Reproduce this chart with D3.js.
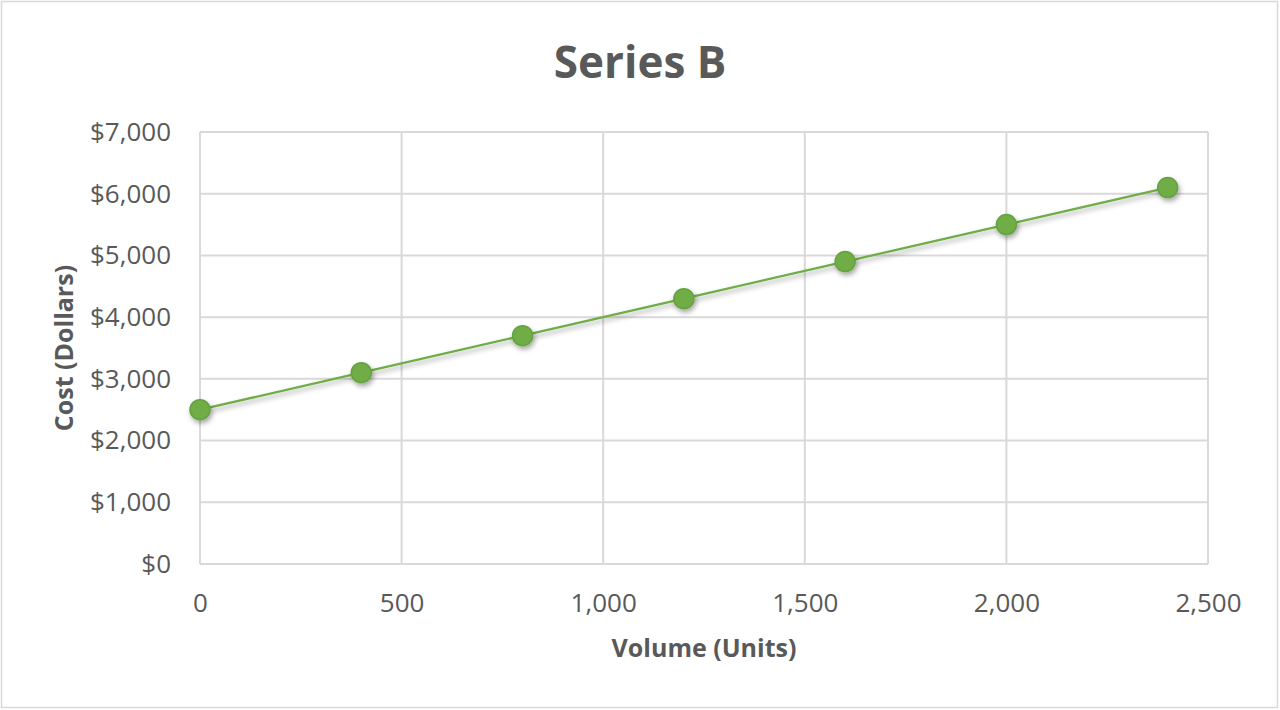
<!DOCTYPE html>
<html>
<head>
<meta charset="utf-8">
<script src="https://cdn.jsdelivr.net/npm/d3@7"></script>
<style>
  body { margin: 0; background: #fff; }
  svg { display: block; font-family: "Open Sans", sans-serif; }
</style>
</head>
<body>
<div id="chart"></div>
<script>
const volume = [0, 400, 800, 1200, 1600, 2000, 2400];
const cost = [2500, 3100, 3700, 4300, 4900, 5500, 6100];
const xTicks = [0, 500, 1000, 1500, 2000, 2500];
const yTicks = [0, 1000, 2000, 3000, 4000, 5000, 6000, 7000];

const width = 1280, height = 710;
const margin = { top: 132, right: 72, bottom: 146, left: 200 };
const textColor = "#595959";
const green = "#70ad47";

const svg = d3.select("#chart").append("svg")
  .attr("width", width)
  .attr("height", height);

// chart border
svg.append("rect")
  .attr("x", 1.5).attr("y", 1.5)
  .attr("width", width - 4).attr("height", height - 4)
  .attr("fill", "#fff")
  .attr("stroke", "#d9d9d9")
  .attr("stroke-width", 1.5);

const defs = svg.append("defs");
const shadow = defs.append("filter").attr("id", "shadow")
  .attr("x", "-50%").attr("y", "-50%").attr("width", "200%").attr("height", "200%");
shadow.append("feDropShadow")
  .attr("dx", 1.5).attr("dy", 3).attr("stdDeviation", 2.5)
  .attr("flood-color", "#000").attr("flood-opacity", 0.35);

const x = d3.scaleLinear()
  .domain([0, 2500])
  .range([margin.left, width - margin.right]);

const y = d3.scaleLinear()
  .domain([0, 7000])
  .range([height - margin.bottom, margin.top]);

// gridlines
svg.append("g")
  .selectAll("line")
  .data(yTicks)
  .join("line")
  .attr("x1", margin.left).attr("x2", width - margin.right)
  .attr("y1", (d) => y(d)).attr("y2", (d) => y(d))
  .attr("stroke", "#d9d9d9").attr("stroke-width", 2);

svg.append("g")
  .selectAll("line")
  .data(xTicks)
  .join("line")
  .attr("x1", (d) => x(d)).attr("x2", (d) => x(d))
  .attr("y1", margin.top).attr("y2", height - margin.bottom)
  .attr("stroke", "#d9d9d9").attr("stroke-width", 2);

// axes
const xAxis = (g) =>
  g.attr("transform", `translate(0,${ height - margin.bottom })`)
    .call(d3.axisBottom(x).tickValues(xTicks).tickSize(0).tickPadding(30)
      .tickFormat(d3.format(",")))
    .call((g) => g.select(".domain").remove());

const yAxis = (g) =>
  g.attr("transform", `translate(${ margin.left },0)`)
    .call(d3.axisLeft(y).tickValues(yTicks).tickSize(0).tickPadding(29)
      .tickFormat((d) => "$" + d3.format(",")(d)))
    .call((g) => g.select(".domain").remove());

svg.append("g").call(xAxis);
svg.append("g").call(yAxis);

svg.selectAll(".tick text")
  .attr("font-family", "\"Open Sans\", sans-serif")
  .attr("font-size", 26)
  .attr("fill", textColor);

// title and axis titles
svg.append("text")
  .attr("x", 640).attr("y", 78)
  .attr("text-anchor", "middle")
  .attr("font-size", 44).attr("font-weight", "bold")
  .attr("fill", textColor)
  .text("Series B");

svg.append("text")
  .attr("x", (margin.left + width - margin.right) / 2).attr("y", 657)
  .attr("text-anchor", "middle")
  .attr("font-size", 25).attr("font-weight", "bold")
  .attr("fill", textColor)
  .text("Volume (Units)");

svg.append("text")
  .attr("transform", `translate(73,${ (margin.top + height - margin.bottom) / 2 }) rotate(-90)`)
  .attr("text-anchor", "middle")
  .attr("font-size", 25).attr("font-weight", "bold")
  .attr("fill", textColor)
  .text("Cost (Dollars)");

// series
const data = volume.map((v, i) => ({ volume: v, cost: cost[i] }));

const line = d3.line()
  .x((d) => x(d.volume))
  .y((d) => y(d.cost));

svg.append("path")
  .datum(data)
  .attr("d", line)
  .attr("fill", "none")
  .attr("stroke", green)
  .attr("stroke-width", 2.25)
  .attr("filter", "url(#shadow)");

svg.append("g")
  .selectAll("circle")
  .data(data)
  .join("circle")
  .attr("cx", (d) => x(d.volume))
  .attr("cy", (d) => y(d.cost))
  .attr("r", 10)
  .attr("fill", green)
  .attr("stroke", "#65a23f")
  .attr("stroke-width", 1.5)
  .attr("filter", "url(#shadow)");
</script>
</body>
</html>
